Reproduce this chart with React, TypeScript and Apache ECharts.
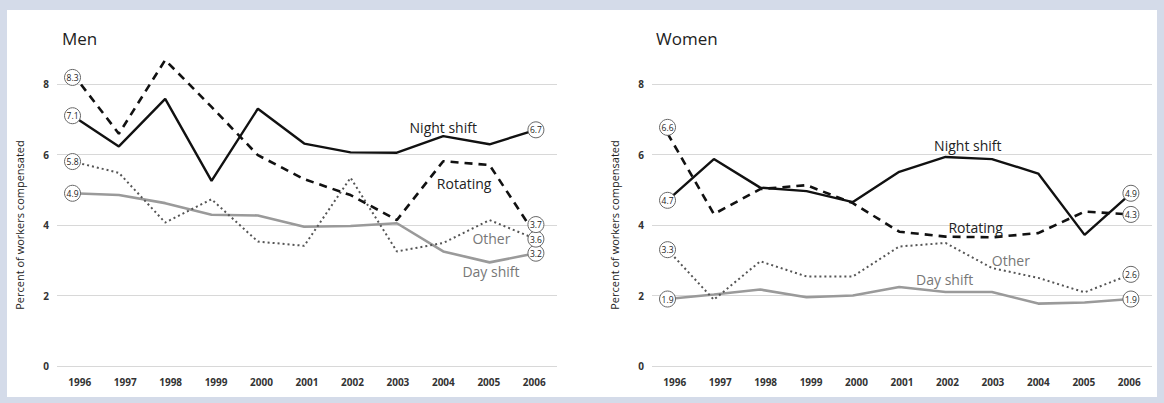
import React, { useEffect, useRef } from "react";
import * as echarts from "echarts";

const years = ["1996", "1997", "1998", "1999", "2000", "2001", "2002", "2003", "2004", "2005", "2006"];
const yearNums = [1996, 1997, 1998, 1999, 2000, 2001, 2002, 2003, 2004, 2005, 2006];

const menNight = [7.1, 6.23, 7.58, 5.25, 7.3, 6.31, 6.06, 6.05, 6.52, 6.29, 6.7];
const menRotating = [8.3, 6.59, 8.68, 7.35, 5.98, 5.3, 4.85, 4.14, 5.81, 5.7, 3.7];
const menOther = [5.8, 5.48, 4.07, 4.73, 3.53, 3.41, 5.34, 3.25, 3.49, 4.14, 3.6];
const menDay = [4.9, 4.85, 4.62, 4.29, 4.27, 3.95, 3.97, 4.05, 3.25, 2.94, 3.2];

const womenNight = [4.7, 5.87, 5.06, 4.96, 4.65, 5.51, 5.93, 5.87, 5.46, 3.72, 4.9];
const womenRotating = [6.6, 4.31, 5.02, 5.13, 4.62, 3.81, 3.67, 3.65, 3.77, 4.38, 4.3];
const womenOther = [3.3, 1.88, 2.97, 2.54, 2.54, 3.39, 3.49, 2.78, 2.5, 2.09, 2.6];
const womenDay = [1.9, 2.03, 2.17, 1.95, 2.0, 2.24, 2.1, 2.1, 1.77, 1.8, 1.9];

const yTicks = [0, 2, 4, 6, 8];
const panelTitles = ["Men", "Women"];
const yAxisTitle = "Percent of workers compensated";

// series-name annotations: [year, value]
const menNames = [
  { name: "Night shift", at: [2004.0, 6.78] },
  { name: "Rotating", at: [2004.45, 5.19] },
  { name: "Other", at: [2005.04, 3.63] },
  { name: "Day shift", at: [2005.03, 2.67] },
];
const womenNames = [
  { name: "Night shift", at: [2002.48, 6.26] },
  { name: "Rotating", at: [2002.65, 3.94] },
  { name: "Other", at: [2003.41, 3.0] },
  { name: "Day shift", at: [2001.98, 2.44] },
];

const FONT = "'Open Sans', 'DejaVu Sans', sans-serif";

const styles: Record<string, any> = {
  "Night shift": { color: "#111", width: 2.4, type: "solid", text: "#222" },
  Rotating: { color: "#111", width: 2.6, type: [8, 6], text: "#222" },
  Other: { color: "#555", width: 2, type: [2, 3], text: "#777" },
  "Day shift": { color: "#9a9a9a", width: 2.6, type: "solid", text: "#777" },
};

function circleItem(x: number, v: number, offsetY = 0) {
  return {
    value: [x, v],
    symbol: "circle",
    symbolSize: 16,
    symbolOffset: [0, offsetY],
    itemStyle: { color: "#fff", borderColor: "#666", borderWidth: 1 },
    label: {
      show: true,
      position: "inside",
      formatter: v.toFixed(1),
      fontSize: 8.5,
      color: "#222",
      fontFamily: FONT,
      letterSpacing: -0.5,
    },
  };
}

function buildSeries(
  name: string,
  vals: number[],
  xAxisIndex: number,
  yAxisIndex: number,
  offsets: [number, number],
  names?: { name: string; at: number[] }
) {
  const st = styles[name];
  const data = vals.map((v, i) => {
    if (i === 0) return circleItem(yearNums[i], v, offsets[0]);
    if (i === vals.length - 1) return circleItem(yearNums[i], v, offsets[1]);
    return { value: [yearNums[i], v] };
  });
  return {
    type: "line",
    name,
    xAxisIndex,
    yAxisIndex,
    data,
    symbol: "none",
    showSymbol: true,
    clip: false,
    lineStyle: { color: st.color, width: st.width, type: st.type },
    itemStyle: { color: st.color },
    emphasis: { disabled: true },
    markPoint: names
      ? {
          symbol: "circle",
          symbolSize: 1,
          itemStyle: { color: "rgba(0,0,0,0)" },
          data: [
            {
              coord: names.at,
              label: {
                show: true,
                position: "inside",
                formatter: names.name,
                fontSize: 14,
                color: st.text,
                fontFamily: FONT,
              },
            },
          ],
        }
      : undefined,
  };
}

export default function App() {
  const ref = useRef<HTMLDivElement>(null);
  useEffect(() => {
    if (!ref.current) return;
    const chart = echarts.init(ref.current, undefined, { renderer: "svg" });
    const xMin = 1995.665;
    const xMax = 2006.455;
    const gridTop = 84;
    const gridH = 282;
    const grids = [
      { left: 57, top: gridTop, width: 500, height: gridH },
      { left: 652, top: gridTop, width: 500, height: gridH },
    ];
    const xAxes: any[] = [];
    const yAxes: any[] = [];
    [0, 1].forEach((g) => {
      xAxes.push({
        gridIndex: g,
        type: "category",
        data: years,
        boundaryGap: true,
        axisLine: { show: false },
        axisTick: { show: false },
        splitLine: { show: false },
        axisLabel: {
          margin: 11,
          fontSize: 10,
          fontWeight: "bold",
          color: "#333",
          fontFamily: FONT,
        },
      });
      xAxes.push({
        gridIndex: g,
        type: "value",
        min: xMin,
        max: xMax,
        show: false,
        splitLine: { show: false },
      });
      yAxes.push({
        gridIndex: g,
        type: "value",
        min: yTicks[0],
        max: yTicks[yTicks.length - 1],
        interval: 2,
        axisLine: { show: false },
        axisTick: { show: false },
        splitLine: { lineStyle: { color: "#d8d8d8", width: 1 } },
        axisLabel: {
          margin: 8,
          fontSize: 10,
          fontWeight: "bold",
          color: "#333",
          fontFamily: FONT,
        },
        name: yAxisTitle,
        nameLocation: "middle",
        nameGap: 32,
        nameTextStyle: { fontSize: 11, color: "#222", fontFamily: FONT },
      });
    });

    const series = [
      buildSeries("Day shift", menDay, 1, 0, [0, 0], menNames[3]),
      buildSeries("Other", menOther, 1, 0, [0, 0], menNames[2]),
      buildSeries("Rotating", menRotating, 1, 0, [4, -11], menNames[1]),
      buildSeries("Night shift", menNight, 1, 0, [0, 0], menNames[0]),
      buildSeries("Day shift", womenDay, 3, 1, [0, 0], womenNames[3]),
      buildSeries("Other", womenOther, 3, 1, [0, 0], womenNames[2]),
      buildSeries("Rotating", womenRotating, 3, 1, [-6, 0], womenNames[1]),
      buildSeries("Night shift", womenNight, 3, 1, [0, 0], womenNames[0]),
    ];

    chart.setOption({
      animation: false,
      backgroundColor: "transparent",
      textStyle: { fontFamily: FONT },
      title: [
        { text: panelTitles[0], left: 57, top: 25, textStyle: { fontSize: 17, fontWeight: "normal", color: "#222", fontFamily: FONT } },
        { text: panelTitles[1], left: 651, top: 25, textStyle: { fontSize: 17, fontWeight: "normal", color: "#222", fontFamily: FONT } },
      ],
      grid: grids,
      xAxis: xAxes,
      yAxis: yAxes,
      series,
    });
    return () => chart.dispose();
  }, []);

  return (
    <div style={{ position: "absolute", left: 0, top: 0, width: 1164, height: 403, background: "#d4dbe9" }}>
      <div style={{ position: "absolute", left: 7, top: 10, width: 1150, height: 387, background: "#fff" }} />
      <div ref={ref} style={{ position: "absolute", left: 0, top: 0, width: 1164, height: 403 }} />
    </div>
  );
}
